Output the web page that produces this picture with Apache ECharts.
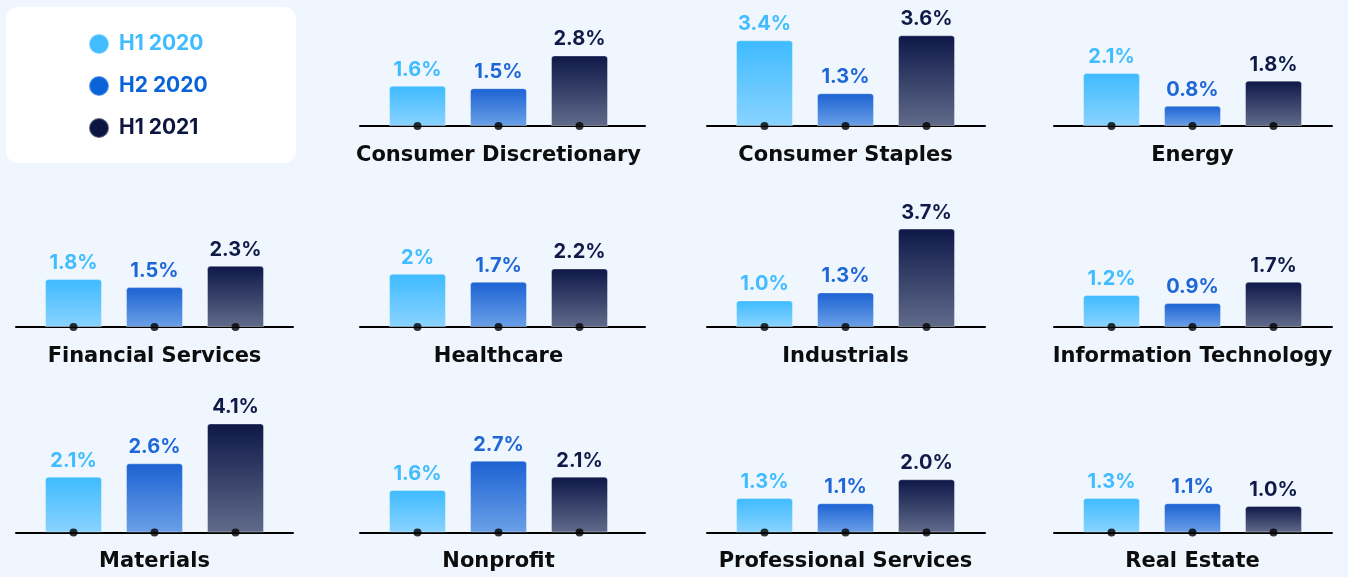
<!DOCTYPE html>
<html>
<head>
<meta charset="utf-8">
<style>
html,body{margin:0;padding:0;background:#eff6fe;}
#chart{width:1348px;height:577px;}
</style>
<script src="https://cdn.jsdelivr.net/npm/echarts@6/dist/echarts.min.js"></script>
</head>
<body>
<div id="chart"></div>
<script>
// ---- data ----
const categories = ['Consumer Discretionary','Consumer Staples','Energy','Financial Services','Healthcare','Industrials','Information Technology','Materials','Nonprofit','Professional Services','Real Estate'];
const seriesNames = ['H1 2020','H2 2020','H1 2021'];
const h1_2020 = [1.6, 3.4, 2.1, 1.8, 2.0, 1.0, 1.2, 2.1, 1.6, 1.3, 1.3];
const h2_2020 = [1.5, 1.3, 0.8, 1.5, 1.7, 1.3, 0.9, 2.6, 2.7, 1.1, 1.1];
const h1_2021 = [2.8, 3.6, 1.8, 2.3, 2.2, 3.7, 1.7, 4.1, 2.1, 2.0, 1.0];
const labelOverrides = {'Healthcare|H1 2020': '2%'};

// ---- styles / layout ----
const seriesValues = [h1_2020, h2_2020, h1_2021];
const labelColors = ['#40bcff', '#1f67d6', '#0f1a48'];
const legendColors = ['#40bcff', '#0a64d8', '#0d1640'];
const gradients = [['#3ebbff', '#8ad3ff'], ['#1c62d3', '#6ba0e7'], ['#0e1848', '#606b8b']];
const colLeft = [16, 360, 707, 1054];
const colWidth = [277, 285, 278, 278];
const rowBase = [126, 327, 532.5];
const barStep = 81, barW = 57, firstOffset = 57.5, yMax = 5, pxPerUnit = 26.6;

const grids = [], xAxes = [], yAxes = [], series = [], titles = [];
categories.forEach((cat, p) => {
  const cell = p + 1;
  const col = cell % 4, row = Math.floor(cell / 4);
  const left = colLeft[col], width = colWidth[col], base = rowBase[row];
  const h = yMax * pxPerUnit;
  grids.push({left: left, top: base - h, width: width, height: h, containLabel: false});
  xAxes.push({
    type: 'value', gridIndex: p,
    min: -firstOffset / barStep, max: (width - firstOffset) / barStep,
    axisLine: {show: true, onZero: false, lineStyle: {color: '#000', width: 2}},
    axisTick: {show: false}, axisLabel: {show: false}, splitLine: {show: false}
  });
  yAxes.push({type: 'value', gridIndex: p, min: 0, max: yMax, show: false, splitLine: {show: false}});
  seriesNames.forEach((sn, s) => {
    const key = cat + '|' + sn;
    series.push({
      type: 'bar', name: sn, xAxisIndex: p, yAxisIndex: p,
      barWidth: barW, barGap: '-100%',
      data: [[s, seriesValues[s][p]]],
      itemStyle: {
        color: {type: 'linear', x: 0, y: 0, x2: 0, y2: 1,
          colorStops: [{offset: 0, color: gradients[s][0]}, {offset: 1, color: gradients[s][1]}]},
        borderRadius: [3, 3, 0, 0],
        borderColor: 'rgba(255,255,255,0.35)', borderWidth: 1
      },
      label: {
        show: true, position: 'top', distance: 6,
        color: labelColors[s], fontFamily: 'Inter', fontWeight: 700, fontSize: 20,
        formatter: (prm) => labelOverrides[key] || (prm.value[1].toFixed(1) + '%')
      },
      emphasis: {disabled: true}
    });
  });
  series.push({
    type: 'scatter', name: 'dots', xAxisIndex: p, yAxisIndex: p, clip: false,
    symbolSize: 8, itemStyle: {color: '#000'}, z: 5,
    data: [[0, 0], [1, 0], [2, 0]], silent: true
  });
  titles.push({
    text: cat, left: left + firstOffset + barStep, top: base + 19, textAlign: 'center', padding: 0,
    textStyle: {fontFamily: 'DejaVu Sans', fontWeight: 'bold', fontSize: 21, color: '#0d0d0d'}
  });
});

const chart = echarts.init(document.getElementById('chart'), null, {renderer: 'canvas'});
chart.setOption({
  backgroundColor: '#eff6fe',
  animation: false,
  graphic: [{type: 'rect', shape: {x: 6, y: 7, width: 290, height: 156, r: 12}, style: {fill: '#ffffff'}, z: -1}],
  title: titles,
  legend: {
    orient: 'vertical', left: 88, top: 33, padding: 0, itemGap: 20, itemWidth: 20, itemHeight: 20, itemTextGap: 10,
    icon: 'circle', selectedMode: false,
    data: seriesNames.map((n, i) => ({name: n, itemStyle: {color: legendColors[i]},
      textStyle: {color: legendColors[i], fontFamily: 'Inter', fontWeight: 700, fontSize: 21, lineHeight: 22, padding: [0, 0, 0, 5]}}))
  },
  grid: grids, xAxis: xAxes, yAxis: yAxes, series: series
});
</script>
</body>
</html>
